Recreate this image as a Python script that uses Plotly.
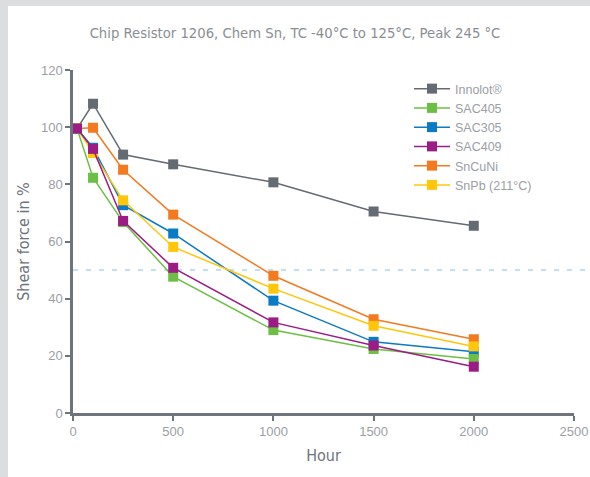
import plotly.graph_objects as go

hours = [20, 100, 250, 500, 1000, 1500, 2000]

series_names = ["Innolot®", "SAC405", "SAC305", "SAC409", "SnCuNi", "SnPb (211°C)"]
innolot = [99.5, 108.2, 90.4, 87.0, 80.7, 70.5, 65.5]
sac405 = [99.5, 82.3, 66.8, 47.7, 29.0, 22.4, 18.9]
sac305 = [99.5, 92.8, 72.7, 62.8, 39.3, 24.9, 21.4]
sac409 = [99.5, 92.4, 67.2, 50.8, 31.7, 23.6, 16.2]
sncuni = [99.5, 99.8, 85.1, 69.4, 48.0, 32.8, 25.8]
snpb = [99.5, 91.0, 74.4, 58.1, 43.5, 30.5, 23.3]

colors = ["#646b72", "#6cbf44", "#0a7bc4", "#9b1c84", "#f47a20", "#ffc60a"]
values = [innolot, sac405, sac305, sac409, sncuni, snpb]

x_ticks = [0, 500, 1000, 1500, 2000, 2500]
y_ticks = [0, 20, 40, 60, 80, 100, 120]
threshold = 50

title_text = "Chip Resistor 1206, Chem Sn, TC -40°C to 125°C, Peak 245 °C"

draw_order = [0, 4, 2, 5, 1, 3]

fig = go.Figure()
for i in draw_order:
    fig.add_trace(go.Scatter(
        x=hours, y=values[i], name=series_names[i], mode="lines+markers",
        line=dict(color=colors[i], width=1.5),
        marker=dict(symbol="square", size=10, color=colors[i]),
        legendrank=i + 1,
    ))

W, H = 590, 477
L, R, T, B = 73, 16, 70, 64
pw, ph = W - L - R, H - T - B

def px_x(p):
    return (p - L) / pw

def px_y(p):
    return (H - B - p) / ph

cond = "DejaVu Sans Condensed, Liberation Sans Narrow, sans-serif"
plain = "Liberation Sans, Arial, sans-serif"
gray = "#dcdddf"

shapes = [
    dict(type="rect", xref="paper", yref="paper", x0=px_x(0), x1=px_x(W), y0=px_y(6), y1=px_y(0),
         fillcolor=gray, line=dict(width=0), layer="below"),
    dict(type="rect", xref="paper", yref="paper", x0=px_x(0), x1=px_x(8), y0=px_y(H), y1=px_y(0),
         fillcolor=gray, line=dict(width=0), layer="below"),
    dict(type="line", xref="paper", yref="y", x0=0, x1=px_x(W), y0=threshold, y1=threshold,
         line=dict(color="#c4def2", width=2, dash="5px,8px"), layer="below"),
]

axis_common = dict(showgrid=False, zeroline=False, automargin=False,
                   showline=True, linecolor="#6d747b", linewidth=2.5,
                   ticks="outside", ticklen=5, tickwidth=2, tickcolor="#6d747b",
                   ticklabeloverflow="allow",
                   tickfont=dict(family=plain, size=13, color="#9ba0a5"))

fig.update_layout(
    width=W, height=H,
    margin=dict(l=L, r=R, t=T, b=B, autoexpand=False),
    paper_bgcolor="white", plot_bgcolor="white",
    shapes=shapes,
    title=dict(text=title_text, x=0.5, xref="container", xanchor="center", y=1 - 33 / H, yanchor="middle",
               font=dict(family=cond, size=14.7, color="#8a8e92")),
    xaxis=dict(range=[0, 2500], tickvals=x_ticks,
               title=dict(text="Hour", standoff=12, font=dict(family=cond, size=16, color="#6d747b")),
               **axis_common),
    yaxis=dict(range=[0, 120], tickvals=y_ticks,
               title=dict(text="Shear force in %", standoff=8, font=dict(family=cond, size=16, color="#6d747b")),
               **axis_common),
    legend=dict(x=px_x(409), y=px_y(74), xanchor="left", yanchor="top",
                bgcolor="rgba(0,0,0,0)", traceorder="normal", itemwidth=36,
                font=dict(family=plain, size=12.5, color="#9ba0a5")),
    showlegend=True,
)

fig.write_html("out.html", config={"displayModeBar": False},
               post_script="document.body.style.margin='0';document.body.style.overflow='hidden';")
